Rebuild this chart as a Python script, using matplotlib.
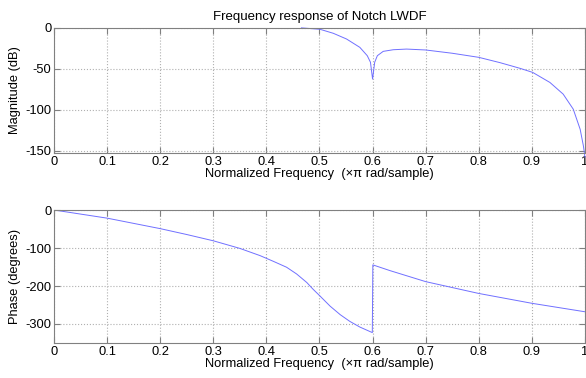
import matplotlib.pyplot as plt
import numpy as np

plt.rcParams['font.family'] = ['Liberation Sans', 'DejaVu Sans']
plt.rcParams['axes.unicode_minus'] = False  # plain hyphen like the original

# Magnitude response (dB)
mag_freq = [0.466, 0.501, 0.526, 0.551, 0.576, 0.590, 0.596, 0.600, 0.604,
            0.609, 0.620, 0.639, 0.664, 0.700, 0.750, 0.800, 0.840, 0.878,
            0.9015, 0.934, 0.959, 0.978, 0.991, 0.997, 1.000]
mag_db = [0.0, -1.7, -6.6, -13.6, -23.8, -34.0, -42.0, -62.6, -42.0,
          -34.0, -28.7, -26.7, -25.9, -27.0, -31.0, -36.0, -42.5, -49.5,
          -54.4, -66.7, -81.0, -99.4, -124.0, -144.0, -158.0]

# Phase response (degrees)
ph_freq = [0.0, 0.1, 0.2, 0.25, 0.3, 0.35, 0.388, 0.413, 0.438, 0.457, 0.476,
           0.488, 0.501, 0.520, 0.539, 0.557, 0.576, 0.5995, 0.6005, 0.633,
           0.7, 0.8, 0.9, 1.0]
ph_deg = [0.0, -21.4, -49.0, -64.5, -81.0, -101.0, -120.0, -135.0, -150.6,
          -168.4, -190.7, -208.6, -226.4, -253.0, -275.4, -293.0, -308.0,
          -322.6, -144.4, -159.6, -188.5, -219.6, -245.5, -267.8]

xticks = np.round(np.arange(0, 1.01, 0.1), 1)
xticklabels = ['0', '0.1', '0.2', '0.3', '0.4', '0.5', '0.6', '0.7', '0.8', '0.9', '1']
xlabel = 'Normalized Frequency  (\u00d7\u03c0 rad/sample)'

fig = plt.figure(figsize=(5.86, 3.78), dpi=100)
ax1 = fig.add_axes([0.0922, 0.5952, 0.906, 0.331])
ax2 = fig.add_axes([0.0922, 0.0926, 0.906, 0.3518])


def style_axes(ax, yticks):
    ax.set_xlim(0, 1)
    ax.set_xticks(xticks)
    ax.set_xticklabels(xticklabels)
    ax.set_yticks(yticks)
    ax.grid(True, color='#b0b0b0', linestyle=':', linewidth=0.8)
    ax.set_axisbelow(True)
    ax.tick_params(direction='in', top=True, right=True, length=4,
                   color='#808080', labelsize=9.3, pad=2)
    for sp in ax.spines.values():
        sp.set_color('#808080')
        sp.set_linewidth(0.8)
    ax.set_xlabel(xlabel, fontsize=9.3, labelpad=0)


ax1.plot(mag_freq, mag_db, color='#7070ff', linewidth=0.7, clip_on=False)
ax1.set_ylim(-153, 0)
style_axes(ax1, [-150, -100, -50, 0])
ax1.set_ylabel('Magnitude (dB)', fontsize=9.3, labelpad=3)
ax1.set_title('Frequency response of Notch LWDF', fontsize=9.5, pad=6)

ax2.plot(ph_freq, ph_deg, color='#7070ff', linewidth=0.7)
ax2.set_ylim(-350, 0)
style_axes(ax2, [-300, -200, -100, 0])
ax2.set_ylabel('Phase (degrees)', fontsize=9.3, labelpad=3)

fig.savefig('out.png', dpi=100)
